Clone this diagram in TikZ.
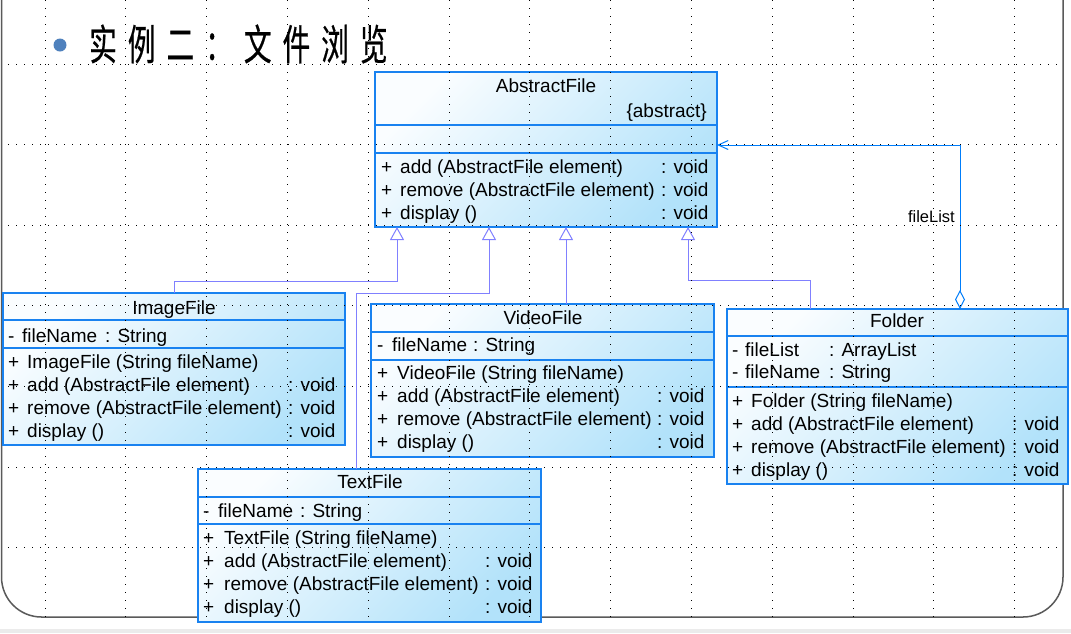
\documentclass[tikz,border=0pt]{standalone}
\usepackage{fontspec}
\usepackage{graphicx}
\setmainfont{Liberation Sans}
\newfontfamily\cjkfont[LetterSpace=39.5,FakeBold=0.6]{Noto Sans CJK SC}
\usetikzlibrary{arrows.meta}
\definecolor{boxline}{RGB}{25,130,240}
\definecolor{shadeA}{RGB}{250,253,255}
\definecolor{shadeB}{RGB}{178,226,250}
\definecolor{genline}{RGB}{128,128,255}
\definecolor{aggline}{RGB}{0,125,250}
\definecolor{framegray}{RGB}{90,90,90}
\definecolor{bandgray}{RGB}{235,235,235}
\definecolor{bulletblue}{RGB}{79,129,189}
\newcommand\umlop[5]{\node[tx] (#1s) at (#3,#2) {+}; \node[tx] (#1n) at (#4,#2) {#5};}
\newcommand\umlvoid[3]{\node[tx] (#1) at (#2,#3) {: void};}
\newcommand\umlattr[7]{\node[tx] (#1s) at (#3,#2) {-}; \node[tx] (#1n) at (#4,#2) {#5}; \node[tx] (#1t) at (#6,#2) {#7};}
\begin{document}
\begin{tikzpicture}[x=1pt,y=-1pt,
  cls/.style={draw=boxline, line width=1.2pt, top color=shadeA, bottom color=shadeB, shading angle=45, inner sep=0pt, outer sep=0pt},
  sect/.style={draw=boxline, line width=1.2pt},
  tx/.style={anchor=base west, inner sep=0pt, font=\fontsize{19}{21}\selectfont},
  tc/.style={anchor=base, inner sep=0pt, font=\fontsize{19}{21}\selectfont},
  gen/.style={draw=genline, line width=1pt, -{Triangle[open, length=13pt, width=14pt]}},
  agg/.style={draw=aggline, line width=1pt, {Diamond[open,length=19pt,width=10pt]}-{Straight Barb[length=10pt,width=9pt]}},
  gridl/.style={draw=black, line width=1pt, dash pattern=on 1pt off 7pt},
  frame/.style={draw=framegray, line width=1.5pt, rounded corners=40pt}]
\useasboundingbox (0,0) rectangle (1071,633);
\fill[white] (0,0) rectangle (1071,633);
\fill[bandgray] (0,629) rectangle (1071,633);
\draw[frame] (1.5,0) -- (1.5,617) -- (1063,617) -- (1063,0);
% title
\fill[bulletblue] (60,45) circle (6.5);
\node[anchor=west, inner sep=0pt] (title) at (89,44) {\scalebox{0.66}[1]{\cjkfont\fontsize{42}{42}\selectfont 实例二：文件浏览}};
% boxes
\node[cls, minimum width=342pt, minimum height=155pt] (abs) at (546,149.5) {};
\node[cls, minimum width=342pt, minimum height=152pt] (img) at (174,369) {};
\node[cls, minimum width=343pt, minimum height=153pt] (vid) at (542.5,380.5) {};
\node[cls, minimum width=341pt, minimum height=175pt] (fold) at (897.5,396.5) {};
\node[cls, minimum width=343pt, minimum height=153pt] (txt) at (369.5,545.5) {};
\draw[sect] (375,125) -- (717,125); \draw[sect] (375,153) -- (717,153);
\draw[sect] (3,320) -- (345,320); \draw[sect] (3,348) -- (345,348);
\draw[sect] (371,332) -- (714,332); \draw[sect] (371,360) -- (714,360);
\draw[sect] (727,336) -- (1068,336); \draw[sect] (727,387) -- (1068,387);
\draw[sect] (198,497) -- (541,497); \draw[sect] (198,524) -- (541,524);
% connectors
\coordinate (b1) at (397,281);
\coordinate (b2) at (489,293);
\coordinate (b3) at (688,280);
\coordinate (b4) at (960,145);
\draw[gen] (img.north) |- (b1) -- ([xshift=22pt]abs.south west);
\draw[gen] ([xshift=158pt]txt.north west) |- (b2) -- ([xshift=114pt]abs.south west);
\draw[gen] ([xshift=195pt]vid.north west) -- ([xshift=191pt]abs.south west);
\draw[gen] ([xshift=83pt]fold.north west) |- (b3) -- ([xshift=313pt]abs.south west);
\draw[agg] ([xshift=233pt]fold.north west) -- (b4) -- (abs.east |- b4);
\node[anchor=base east, inner sep=0pt, font=\fontsize{16.5}{18}\selectfont] (lbl) at (955,222) {fileList};
% grid
\foreach \i in {0,...,12} \draw[gridl] ({45+80.8*\i},0) -- ({45+80.8*\i},620);
\foreach \j in {0,...,6} \draw[gridl] (8,{64+80.6*\j}) -- (1062,{64+80.6*\j});
% AbstractFile texts
\node[tc] (a0) at (546,92) {AbstractFile};
\node[anchor=base east, inner sep=0pt, font=\fontsize{19}{21}\selectfont] (a1) at (707,117) {\{abstract\}};
\umlop{am1}{173}{381}{400}{add (AbstractFile element)} \umlvoid{av1}{661}{173}
\umlop{am2}{196}{381}{400}{remove (AbstractFile element)} \umlvoid{av2}{661}{196}
\umlop{am3}{219}{381}{400}{display ()} \umlvoid{av3}{661}{219}
% ImageFile
\node[tc] (i0) at (174,314) {ImageFile};
\umlattr{ia1}{342}{8}{22}{fileName}{105}{: String}
\umlop{im0}{368}{8}{27}{ImageFile (String fileName)}
\umlop{im1}{391}{8}{27}{add (AbstractFile element)} \umlvoid{iv1}{288}{391}
\umlop{im2}{414}{8}{27}{remove (AbstractFile element)} \umlvoid{iv2}{288}{414}
\umlop{im3}{437}{8}{27}{display ()} \umlvoid{iv3}{288}{437}
% VideoFile
\node[tc] (v0) at (543,324) {VideoFile};
\umlattr{va1}{351}{377}{392}{fileName}{473}{: String}
\umlop{vm0}{379}{377}{397}{VideoFile (String fileName)}
\umlop{vm1}{402}{377}{397}{add (AbstractFile element)} \umlvoid{vv1}{657}{402}
\umlop{vm2}{425}{377}{397}{remove (AbstractFile element)} \umlvoid{vv2}{657}{425}
\umlop{vm3}{448}{377}{397}{display ()} \umlvoid{vv3}{657}{448}
% Folder
\node[tc] (f0) at (897,327) {Folder};
\umlattr{fa1}{356}{732}{745}{fileList}{829}{: ArrayList}
\umlattr{fa2}{378}{732}{745}{fileName}{829}{: String}
\umlop{fm0}{407}{732}{751}{Folder (String fileName)}
\umlop{fm1}{430}{732}{751}{add (AbstractFile element)} \umlvoid{fv1}{1012}{430}
\umlop{fm2}{453}{732}{751}{remove (AbstractFile element)} \umlvoid{fv2}{1012}{453}
\umlop{fm3}{476}{732}{751}{display ()} \umlvoid{fv3}{1012}{476}
% TextFile
\node[tc] (t0) at (370,488) {TextFile};
\umlattr{ta1}{517}{203}{218}{fileName}{300}{: String}
\umlop{tm0}{544}{203}{224}{TextFile (String fileName)}
\umlop{tm1}{567}{203}{224}{add (AbstractFile element)} \umlvoid{tv1}{485}{567}
\umlop{tm2}{590}{203}{224}{remove (AbstractFile element)} \umlvoid{tv2}{485}{590}
\umlop{tm3}{613}{203}{224}{display ()} \umlvoid{tv3}{485}{613}
\end{tikzpicture}
\end{document}
